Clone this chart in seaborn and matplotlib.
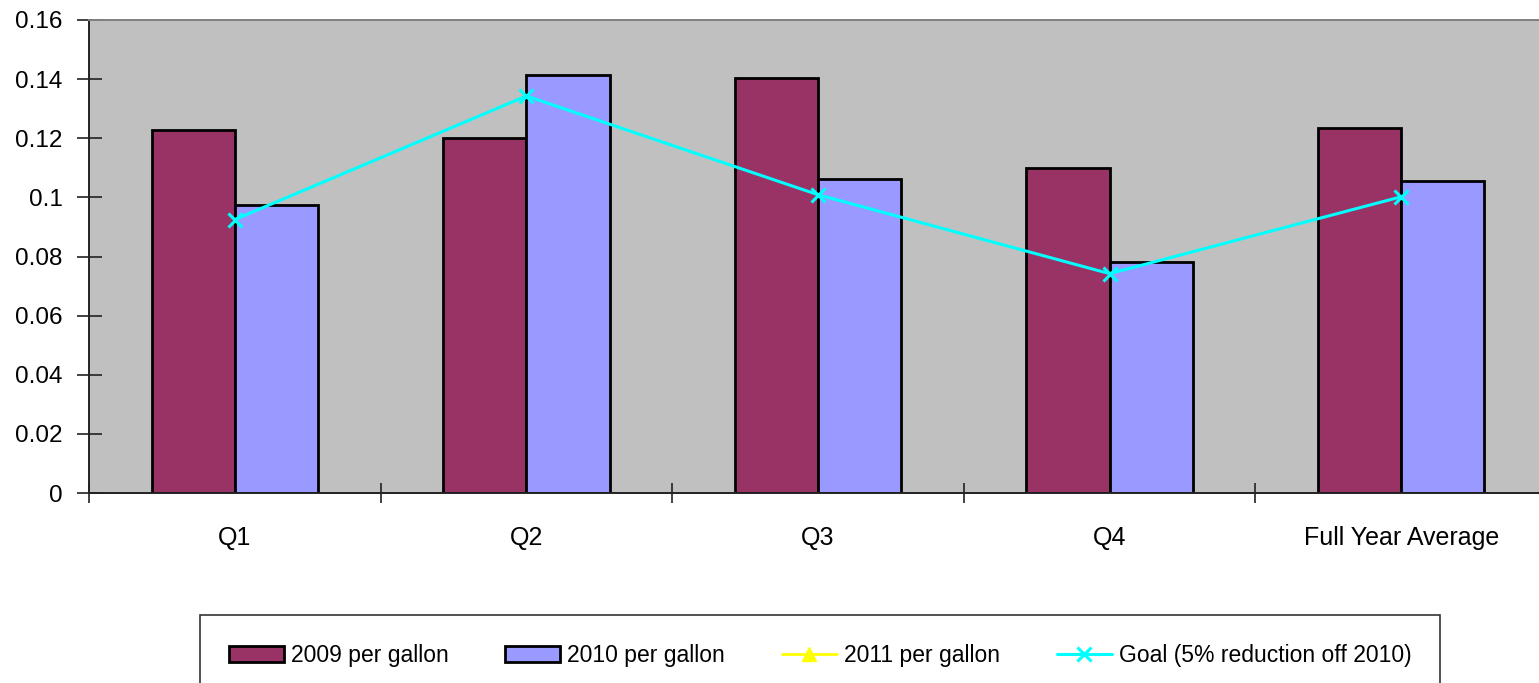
import numpy as np
import pandas as pd
import matplotlib
matplotlib.use("Agg")
import matplotlib.pyplot as plt
from matplotlib.patches import Patch
from matplotlib.lines import Line2D
import seaborn as sns

# Quarterly cost per gallon
quarters = ["Q1", "Q2", "Q3", "Q4", "Full Year Average"]
per_gallon_2009 = [0.1228, 0.1201, 0.1404, 0.1099, 0.1235]
per_gallon_2010 = [0.0974, 0.1414, 0.1062, 0.0781, 0.1055]
per_gallon_2011 = [np.nan, np.nan, np.nan, np.nan, np.nan]
goal = [0.0925, 0.1343, 0.1009, 0.0742, 0.1002]

series_names = ["2009 per gallon", "2010 per gallon", "2011 per gallon",
                "Goal (5% reduction off 2010)"]
y_ticks = [0, 0.02, 0.04, 0.06, 0.08, 0.1, 0.12, 0.14, 0.16]
y_tick_labels = ["0", "0.02", "0.04", "0.06", "0.08", "0.1", "0.12", "0.14", "0.16"]

C2009 = "#993366"
C2010 = "#9999FF"
C2011 = "#FFFF00"
CGOAL = "#00FFFF"

sns.set_style("white")
plt.rcParams["font.family"] = ["Liberation Sans", "DejaVu Sans"]
plt.rcParams["text.color"] = "black"
plt.rcParams["xtick.color"] = "black"
plt.rcParams["ytick.color"] = "black"

bars = pd.DataFrame({
    "quarter": quarters * 2,
    "value": per_gallon_2009 + per_gallon_2010,
    "series": [series_names[0]] * 5 + [series_names[1]] * 5,
})

fig = plt.figure(figsize=(15.39, 6.83), dpi=100)
ax = fig.add_axes([89 / 1539, 1 - 493 / 683, 1458 / 1539, 473 / 683])
ax.set_facecolor("#C0C0C0")

sns.barplot(data=bars, x="quarter", y="value", hue="series", order=quarters,
            hue_order=series_names[:2], palette=[C2009, C2010], width=0.57,
            edgecolor="black", linewidth=2.0, saturation=1, errorbar=None,
            legend=False, ax=ax, zorder=2)

pos = np.arange(len(quarters))
ax.plot(pos, per_gallon_2011, color=C2011, marker="^", lw=2, zorder=3)
sns.lineplot(x=pos, y=goal, color=CGOAL, marker="x", markersize=10,
             markeredgewidth=2.2, markeredgecolor=CGOAL, linewidth=2.2,
             ax=ax, zorder=4)

ax.set_xlim(-0.5, len(quarters) - 0.5)
ax.set_ylim(0, 0.16)
ax.set_yticks(y_ticks)
ax.set_yticklabels(y_tick_labels, fontsize=17.5)
ax.set_xticks(np.arange(-0.5, len(quarters), 1))
ax.set_xticklabels([""] * (len(quarters) + 1))
ax.set_xticks(pos, minor=True)
ax.set_xticklabels(quarters, minor=True, fontsize=18)
ax.tick_params(axis="x", which="major", bottom=True, direction="inout",
               length=14, width=1.2, color="#222222")
ax.tick_params(axis="x", which="minor", bottom=True, length=0, pad=24,
               labelcolor="black")
ax.tick_params(axis="y", left=True, direction="inout", length=18, width=1.2,
               color="#222222", pad=10, labelcolor="black")
ax.set_xlabel("")
ax.set_ylabel("")

for side in ["left", "bottom"]:
    ax.spines[side].set_color("#222222")
    ax.spines[side].set_linewidth(1.4)
ax.spines["top"].set_color("#808080")
ax.spines["top"].set_linewidth(1.4)
ax.spines["right"].set_visible(False)

handles = [
    Patch(facecolor=C2009, edgecolor="black", linewidth=2.0),
    Patch(facecolor=C2010, edgecolor="black", linewidth=2.0),
    Line2D([], [], color=C2011, marker="^", markersize=10, lw=2),
    Line2D([], [], color=CGOAL, marker="x", markersize=10, markeredgewidth=2.2, lw=2.2),
]
leg = fig.legend(handles, series_names, loc="upper left", ncol=4,
                 bbox_to_anchor=(200 / 1539, 1 - 615 / 683, 1240 / 1539, 0),
                 mode="expand", fontsize=16.5, frameon=True, fancybox=False,
                 edgecolor="black", handlelength=2.4, handletextpad=0.3,
                 borderpad=1.25, borderaxespad=0)
leg.get_frame().set_linewidth(1.2)
for t in leg.get_texts():
    t.set_color("black")

fig.savefig("out.png", dpi=100)
